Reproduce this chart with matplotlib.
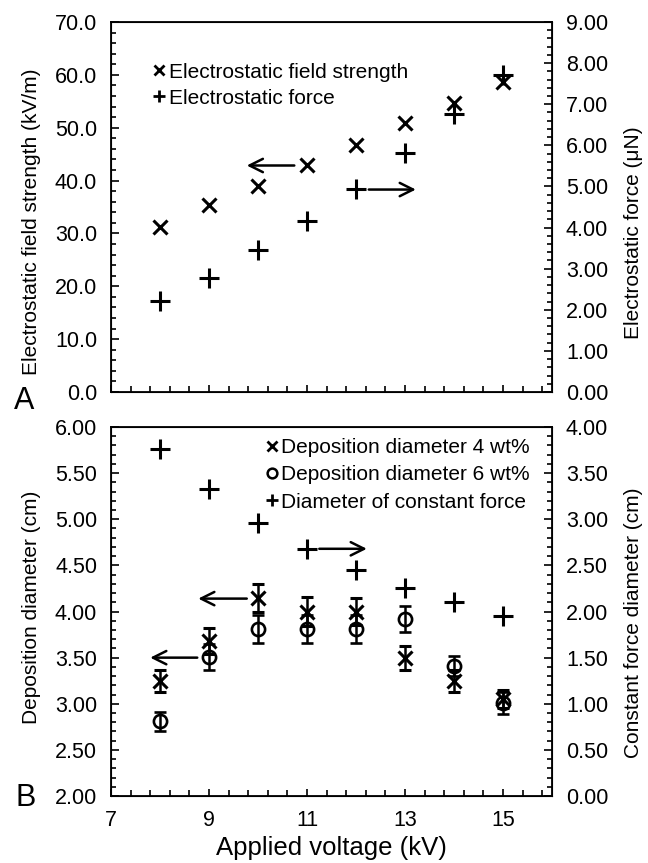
import numpy as np
import matplotlib
matplotlib.use('Agg')
import matplotlib.pyplot as plt
from matplotlib.lines import Line2D
from matplotlib.ticker import FixedLocator, MultipleLocator, FormatStrFormatter

plt.rcParams['font.family'] = ['Liberation Sans', 'DejaVu Sans']

# Данные
voltage = [8, 9, 10, 11, 12, 13, 14, 15]

# Панель A
field_strength = [31.2, 35.3, 38.9, 43.0, 46.8, 50.8, 54.6, 58.7]
force = [2.21, 2.78, 3.45, 4.16, 4.94, 5.82, 6.75, 7.72]

# Панель B
dep_4 = [3.25, 3.68, 4.15, 4.00, 4.00, 3.50, 3.25, 3.05]
dep_4_err = [0.12, 0.14, 0.15, 0.16, 0.15, 0.13, 0.12, 0.10]
dep_6 = [2.81, 3.51, 3.81, 3.81, 3.81, 3.92, 3.41, 3.01]
dep_6_err = [0.10, 0.14, 0.15, 0.15, 0.15, 0.14, 0.11, 0.12]
const_force = [3.76, 3.33, 2.96, 2.68, 2.45, 2.25, 2.10, 1.95]

labels_a = ['Electrostatic field strength', 'Electrostatic force']
labels_b = ['Deposition diameter 4 wt%', 'Deposition diameter 6 wt%',
            'Diameter of constant force']

FS = 15.5


def style_axis(ax, major, minor, fmt):
    ax.yaxis.set_major_locator(MultipleLocator(major))
    ax.yaxis.set_minor_locator(MultipleLocator(minor))
    ax.yaxis.set_major_formatter(FormatStrFormatter(fmt))
    ax.tick_params(axis='y', which='both', direction='in', labelsize=FS, pad=10)
    ax.tick_params(axis='y', which='major', length=6, width=1.2)
    ax.tick_params(axis='y', which='minor', length=3.5, width=1.2)


def style_x(ax, show_labels):
    ax.set_xlim(7, 16)
    ax.xaxis.set_major_locator(FixedLocator([7, 9, 11, 13, 15]))
    ax.xaxis.set_minor_locator(FixedLocator(np.arange(7, 16.01, 0.4)))
    ax.tick_params(axis='x', which='both', direction='in', top=False,
                   labelsize=FS, pad=10, labelbottom=show_labels)
    ax.tick_params(axis='x', which='major', length=5, width=1.2)
    ax.tick_params(axis='x', which='minor', length=4, width=1.2)
    for s in ax.spines.values():
        s.set_linewidth(1.3)


def arrow(ax, x0, x1, y):
    ax.annotate('', xy=(x1, y), xytext=(x0, y),
                arrowprops=dict(arrowstyle='->', lw=1.8, color='black',
                                mutation_scale=24, shrinkA=0, shrinkB=0))


fig = plt.figure(figsize=(6.48, 8.63), dpi=100)

left, width = 0.1713, 0.6807

# ---- Панель A
axA = fig.add_axes([left, 0.5458, width, 0.4287])
axA2 = axA.twinx()
axA.plot(voltage, field_strength, 'x', color='black', ms=9.5, mew=2.2)
axA2.plot(voltage, force, '+', color='black', ms=15, mew=2.2)
axA.set_ylim(0, 70)
axA2.set_ylim(0, 9)
style_x(axA, False)
style_axis(axA, 10, 2, '%.1f')
style_axis(axA2, 1, 0.2, '%.2f')
axA.set_ylabel('Electrostatic field strength (kV/m)', fontsize=15)
axA2.set_ylabel('Electrostatic force (μN)', fontsize=15)
axA.yaxis.set_label_coords(-0.158, 0.46)
axA2.yaxis.set_label_coords(1.162, 0.43)
arrow(axA, 10.74, 9.77, 42.85)
arrow(axA, 12.26, 13.22, 38.3)

handles_a = [Line2D([], [], ls='', marker='x', color='black', ms=7, mew=2),
             Line2D([], [], ls='', marker='+', color='black', ms=8, mew=2)]
axA2.legend(handles_a, labels_a, loc='upper left', bbox_to_anchor=(0.095, 0.89),
            frameon=False, fontsize=15, handlelength=0.6, handletextpad=0.15,
            borderpad=0, borderaxespad=0, labelspacing=0.33)
fig.text(0.038, 0.535, 'A', fontsize=22, ha='center', va='center')

# ---- Панель B
axB = fig.add_axes([left, 0.0776, width, 0.4276])
axB2 = axB.twinx()
axB.errorbar(voltage, dep_4, yerr=dep_4_err, fmt='x', color='black', ms=9.5,
             mew=2.2, elinewidth=1.8, capsize=4.5, capthick=1.8)
axB.errorbar(voltage, dep_6, yerr=dep_6_err, fmt='o', color='black', ms=9.5,
             mew=1.9, mfc='none', elinewidth=1.8, capsize=4.5, capthick=1.8)
axB2.plot(voltage, const_force, '+', color='black', ms=15, mew=2.2)
axB.set_ylim(2, 6)
axB2.set_ylim(0, 4)
style_x(axB, True)
style_axis(axB, 0.5, 0.1, '%.2f')
style_axis(axB2, 0.5, 0.1, '%.2f')
axB.set_ylabel('Deposition diameter (cm)', fontsize=15)
axB2.set_ylabel('Constant force diameter (cm)', fontsize=15)
axB.yaxis.set_label_coords(-0.158, 0.512)
axB2.yaxis.set_label_coords(1.162, 0.47)
axB.set_xlabel('Applied voltage (kV)', fontsize=18.5, labelpad=4)
arrow(axB, 9.77, 8.78, 4.14)
arrow(axB, 8.76, 7.80, 3.50)
arrow(axB, 11.25, 12.22, 4.68)

handles_b = [Line2D([], [], ls='', marker='x', color='black', ms=7, mew=2),
             Line2D([], [], ls='', marker='o', color='black', ms=7, mew=1.8, mfc='none'),
             Line2D([], [], ls='', marker='+', color='black', ms=8, mew=2)]
axB2.legend(handles_b, labels_b, loc='upper left', bbox_to_anchor=(0.35, 0.97),
            frameon=False, fontsize=15, handlelength=0.6, handletextpad=0.15,
            borderpad=0, borderaxespad=0, labelspacing=0.4)
fig.text(0.04, 0.075, 'B', fontsize=22, ha='center', va='center')

plt.savefig('out.png', dpi=100)
plt.close()
